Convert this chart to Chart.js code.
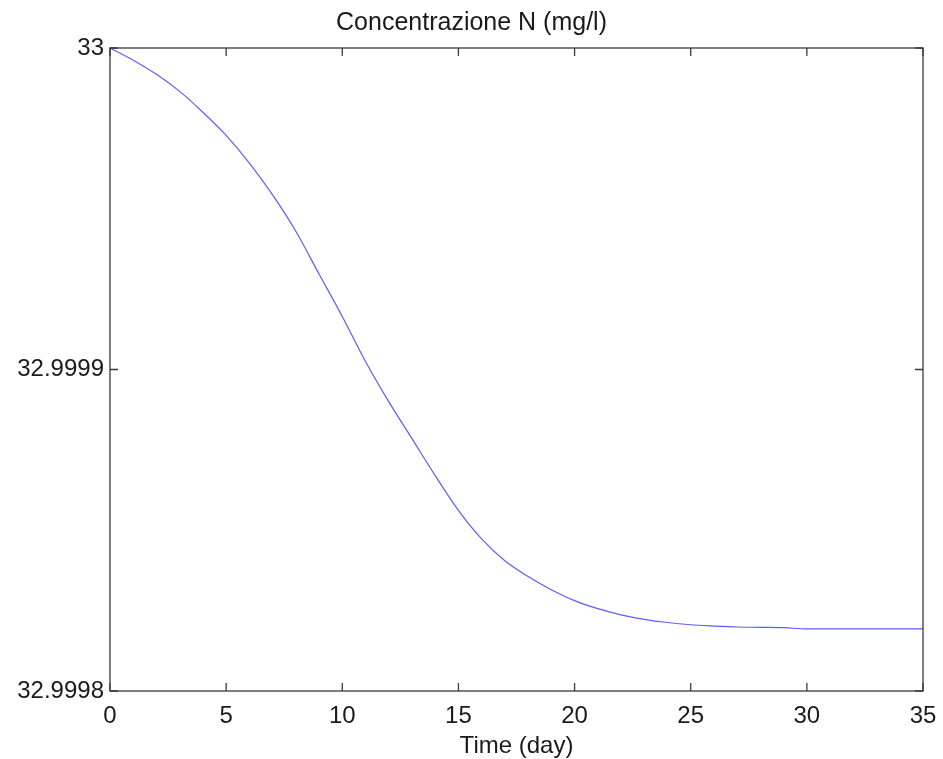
<!DOCTYPE html>
<html>
<head>
<meta charset="utf-8">
<script src="https://cdn.jsdelivr.net/npm/chart.js@4.4.1/dist/chart.umd.min.js"></script>
<style>
    html, body { margin: 0; padding: 0; background: #fff; }
    #wrap { width: 943px; height: 759px; position: relative; }
</style>
</head>
<body>
<div id="wrap"><canvas id="chart"></canvas></div>
<script>
const days = [0, 1, 2, 3, 4, 5, 6, 7, 8, 9, 10, 11, 12, 13, 14, 15, 16, 17,
    18, 19, 20, 21, 22, 23, 24, 25, 26, 27, 28, 29, 30, 31, 32, 33, 34, 35];
const concentration = [
    33.0000000, 32.9999962, 32.9999918, 32.9999865, 32.9999800, 32.9999728,
    32.9999642, 32.9999543, 32.9999430, 32.9999297, 32.9999165, 32.9999025,
    32.9998900, 32.9998785, 32.9998670, 32.9998562, 32.9998473, 32.9998405,
    32.9998356, 32.9998315, 32.9998281, 32.9998256, 32.9998237, 32.9998223,
    32.9998213, 32.9998206, 32.9998202, 32.9998199, 32.9998198, 32.9998197,
    32.9998193, 32.9998193, 32.9998193, 32.9998193, 32.9998193, 32.9998193
];
const xTicks = [0, 5, 10, 15, 20, 25, 30, 35];
const yTicks = [32.9998, 32.9999, 33];
const yTickLabels = ['32.9998', '32.9999', '33'];

const FONT = "'Liberation Sans', Arial, sans-serif";
const AXIS_COLOR = '#3a3a3a';

// matlab style box with inward ticks on all four sides
const boxPlugin = {
    id: 'matlabBox',
    afterDatasetsDraw(chart) {
        const { ctx, chartArea: a, scales } = chart;
        const len = 8;
        ctx.save();
        ctx.strokeStyle = AXIS_COLOR;
        ctx.lineWidth = 1.3;
        ctx.strokeRect(a.left, a.top, a.right - a.left, a.bottom - a.top);
        ctx.beginPath();
        xTicks.forEach((v) => {
            const px = scales.x.getPixelForValue(v);
            ctx.moveTo(px, a.bottom);
            ctx.lineTo(px, a.bottom - len);
            ctx.moveTo(px, a.top);
            ctx.lineTo(px, a.top + len);
        });
        yTicks.forEach((v) => {
            const py = scales.y.getPixelForValue(v);
            ctx.moveTo(a.left, py);
            ctx.lineTo(a.left + len, py);
            ctx.moveTo(a.right, py);
            ctx.lineTo(a.right - len, py);
        });
        ctx.stroke();
        ctx.restore();
    }
};

const canvas = document.getElementById('chart');
new Chart(canvas.getContext('2d'), {
    type: 'line',
    data: {
        datasets: [{
            data: days.map((d, i) => ({ x: d, y: concentration[i] })),
            borderColor: '#5c5cff',
            borderWidth: 1.2,
            pointRadius: 0,
            cubicInterpolationMode: 'monotone',
            clip: false
        }]
    },
    options: {
        responsive: true,
        maintainAspectRatio: false,
        animation: false,
        layout: { padding: 0 },
        plugins: {
            legend: { display: false },
            tooltip: { enabled: false },
            title: {
                display: true,
                text: 'Concentrazione N (mg/l)',
                color: '#1a1a1a',
                font: { family: FONT, size: 25, weight: 'normal', lineHeight: 1.2 },
                padding: { top: 8, bottom: 10 }
            }
        },
        scales: {
            x: {
                type: 'linear',
                min: 0,
                max: 35,
                afterBuildTicks: (scale) => { scale.ticks = xTicks.map((v) => ({ value: v })); },
                afterFit: (scale) => {
                    scale.height = 68;
                    scale.paddingLeft = 0;
                    scale.paddingRight = 20;
                },
                grid: { display: false, drawTicks: false },
                border: { display: false },
                ticks: {
                    color: '#1a1a1a',
                    padding: 11,
                    maxRotation: 0,
                    font: { family: FONT, size: 24, lineHeight: 1.2 }
                },
                title: {
                    display: true,
                    text: 'Time (day)',
                    color: '#1a1a1a',
                    padding: { top: 0, bottom: -2 },
                    font: { family: FONT, size: 24, lineHeight: 1.2 }
                }
            },
            y: {
                type: 'linear',
                min: 32.9998,
                max: 33,
                afterBuildTicks: (scale) => { scale.ticks = yTicks.map((v) => ({ value: v })); },
                afterFit: (scale) => { scale.width = 110; },
                grid: { display: false, drawTicks: false },
                border: { display: false },
                ticks: {
                    color: '#1a1a1a',
                    padding: 6,
                    font: { family: FONT, size: 24, lineHeight: 1.2 },
                    callback: (value) => {
                        const i = yTicks.findIndex((t) => Math.abs(t - value) < 1e-9);
                        return i >= 0 ? yTickLabels[i] : '';
                    }
                }
            }
        }
    },
    plugins: [boxPlugin]
});
</script>
</body>
</html>
